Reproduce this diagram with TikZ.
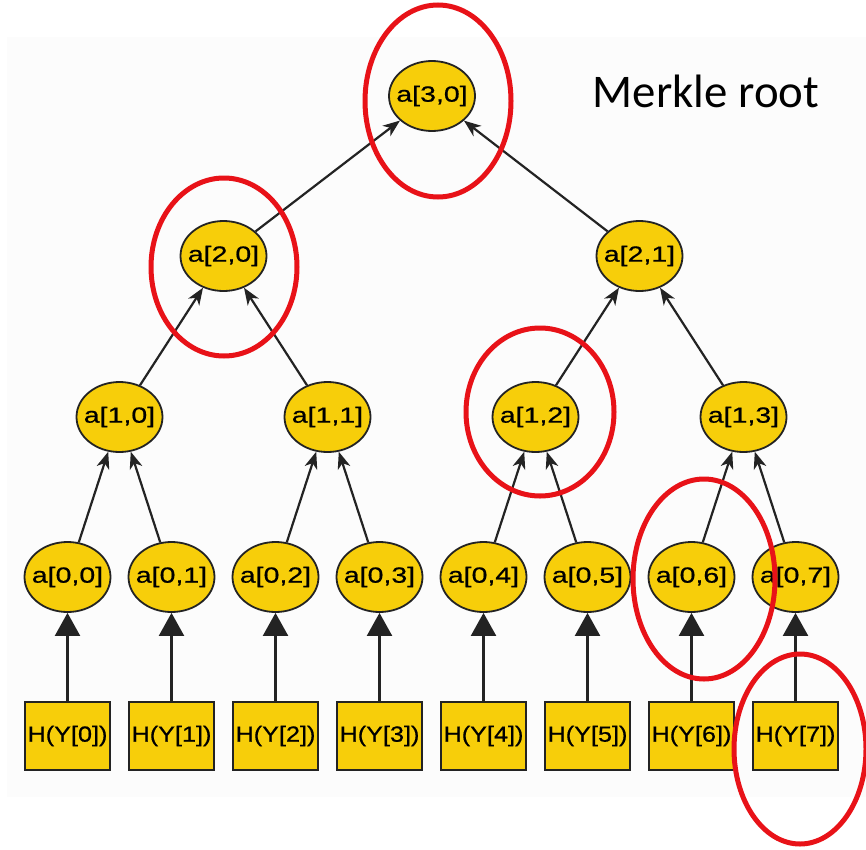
\documentclass[tikz,border=0pt]{standalone}
\usepackage{fontspec}
\setmainfont{Liberation Sans}
\newfontfamily\labelfont{Carlito}
\newfontfamily\hashfont[FakeStretch=1.3, FakeBold=0.7]{Liberation Sans}
\newfontfamily\leaffont[FakeStretch=1.15, FakeBold=0.7]{Liberation Sans}
\usetikzlibrary{arrows.meta}
\usetikzlibrary{shapes.geometric}

\definecolor{hashgold}{RGB}{247,206,10}
\definecolor{edgegray}{RGB}{35,35,35}
\definecolor{ringred}{RGB}{232,18,24}
\definecolor{paper}{RGB}{252,252,252}

\tikzset{
    hashnode/.style={ellipse, draw=edgegray, line width=1.8bp, fill=hashgold,
        minimum width=86bp, minimum height=70bp, inner xsep=-8bp, inner ysep=0pt,
        font=\hashfont\fontsize{22}{24}\selectfont},
    leafbox/.style={rectangle, draw=edgegray, line width=2bp, fill=hashgold,
        minimum width=85bp, minimum height=68bp, inner sep=0pt,
        font=\leaffont\fontsize{22}{24}\selectfont},
    link/.style={draw=edgegray, line width=2.2bp,
        -{Stealth[length=17bp, width=13bp, inset=5bp]}},
    feed/.style={draw=edgegray, line width=2.2bp,
        -{Triangle[length=23bp, width=25bp]}},
    ring/.style={draw=ringred, line width=5bp}
}

\begin{document}
\begin{tikzpicture}[x=1bp, y=-1bp]
                \useasboundingbox (0,0) rectangle (866,850);
                \fill[paper] (7,37) rectangle (866,797);

                \node[hashnode] (a30) at (432,96) {a[3,0]};
                \node[hashnode] (a20) at (223.5,256) {a[2,0]};
                \node[hashnode] (a21) at (639.5,256) {a[2,1]};
                \node[hashnode] (a10) at (119.5,417) {a[1,0]};
                \node[hashnode] (a11) at (327.5,417) {a[1,1]};
                \node[hashnode] (a12) at (535.5,417) {a[1,2]};
                \node[hashnode] (a13) at (743.5,417) {a[1,3]};
                \node[hashnode] (a00) at (67.5,577) {a[0,0]};
                \node[hashnode] (a01) at (171.5,577) {a[0,1]};
                \node[hashnode] (a02) at (275.5,577) {a[0,2]};
                \node[hashnode] (a03) at (379.5,577) {a[0,3]};
                \node[hashnode] (a04) at (483.5,577) {a[0,4]};
                \node[hashnode] (a05) at (587.5,577) {a[0,5]};
                \node[hashnode] (a06) at (691.5,577) {a[0,6]};
                \node[hashnode] (a07) at (795.5,577) {a[0,7]};
                \node[leafbox] (h0) at (67.5,736) {H(Y[0])};
                \node[leafbox] (h1) at (171.5,736) {H(Y[1])};
                \node[leafbox] (h2) at (275.5,736) {H(Y[2])};
                \node[leafbox] (h3) at (379.5,736) {H(Y[3])};
                \node[leafbox] (h4) at (483.5,736) {H(Y[4])};
                \node[leafbox] (h5) at (587.5,736) {H(Y[5])};
                \node[leafbox] (h6) at (691.5,736) {H(Y[6])};
                \node[leafbox] (h7) at (795.5,736) {H(Y[7])};
                \node[anchor=base, font=\labelfont\fontsize{47}{50}\selectfont] (rootlabel) at (706,107) {Merkle root};

                \draw[link] (a20) to (a30);
                \draw[link] (a21) to (a30);
                \draw[link] (a10) to (a20);
                \draw[link] (a11) to (a20);
                \draw[link] (a12) to (a21);
                \draw[link] (a13) to (a21);
                \draw[link] (a00) to (a10);
                \draw[link] (a01) to (a10);
                \draw[link] (a02) to (a11);
                \draw[link] (a03) to (a11);
                \draw[link] (a04) to (a12);
                \draw[link] (a05) to (a12);
                \draw[link] (a06) to (a13);
                \draw[link] (a07) to (a13);
                \draw[feed] (h0) to (a00);
                \draw[feed] (h1) to (a01);
                \draw[feed] (h2) to (a02);
                \draw[feed] (h3) to (a03);
                \draw[feed] (h4) to (a04);
                \draw[feed] (h5) to (a05);
                \draw[feed] (h6) to (a06);
                \draw[feed] (h7) to (a07);

                % highlighted nodes
                \draw[ring] (438,101) ellipse [x radius=73, y radius=96];
                \draw[ring] (224,267) ellipse [x radius=73, y radius=89];
                \draw[ring] (540,412) ellipse [x radius=74, y radius=84];
                \draw[ring] (704,579) ellipse [x radius=71, y radius=100];
                \draw[ring] (800,749) ellipse [x radius=66, y radius=95];
            \end{tikzpicture}
\end{document}
